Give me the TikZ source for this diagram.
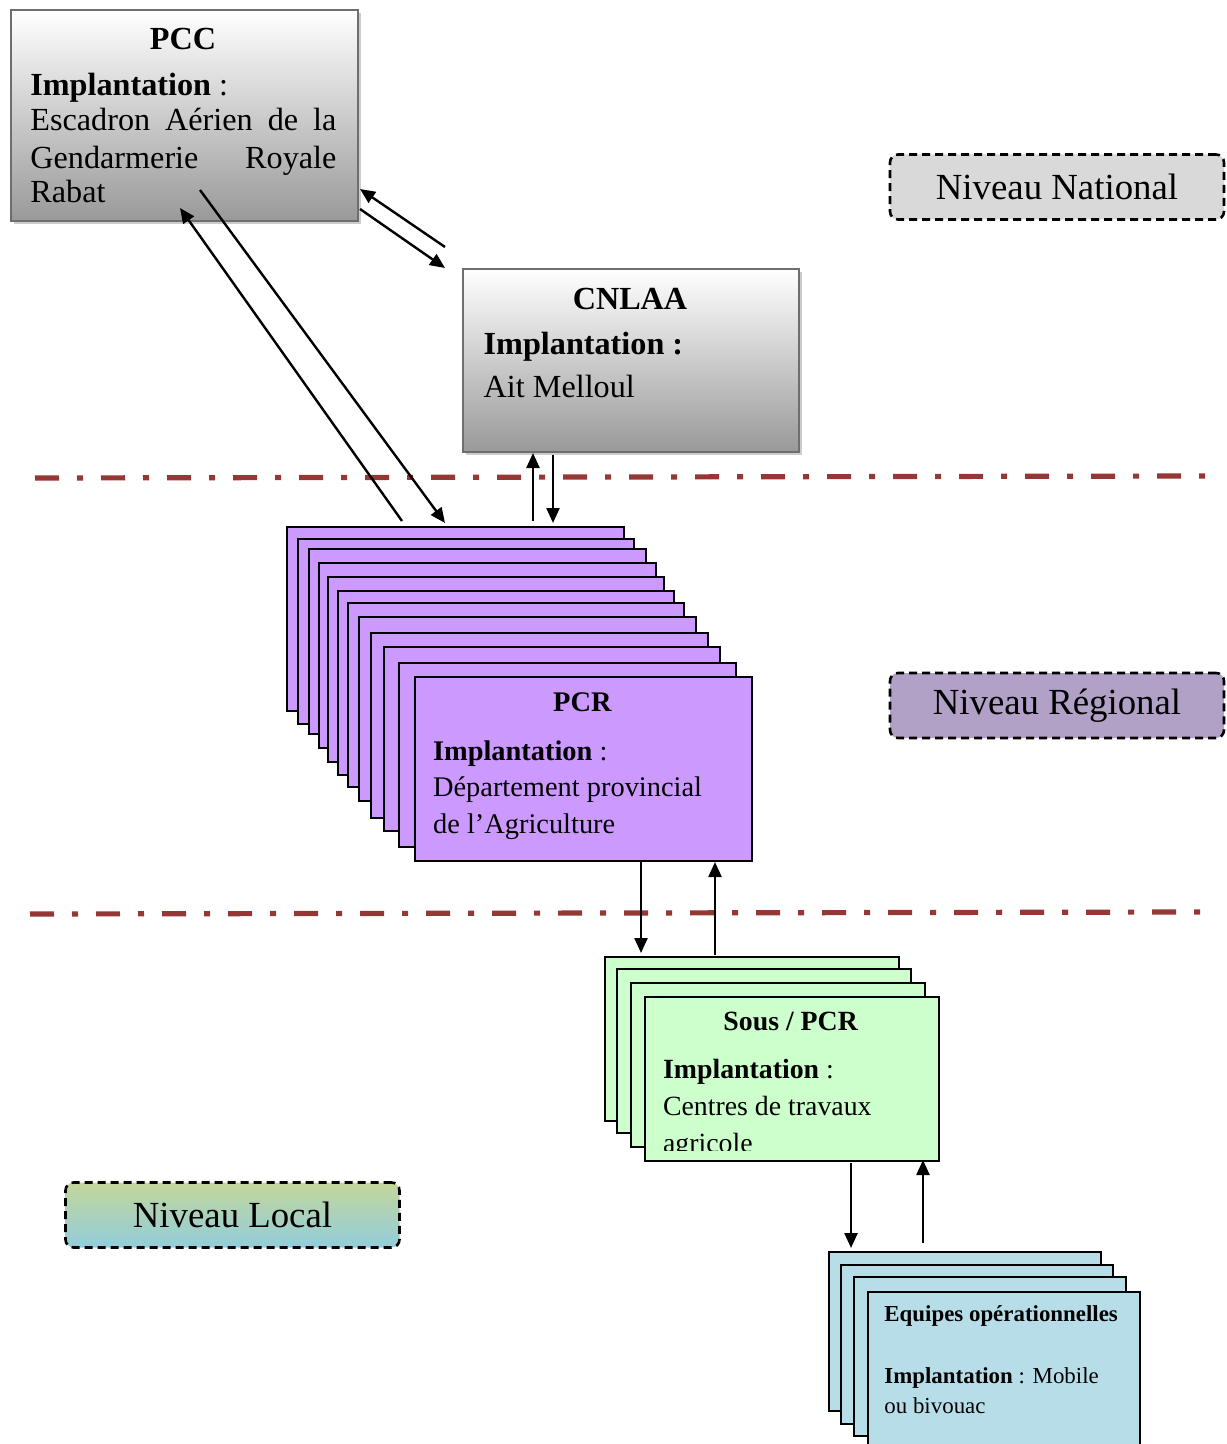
\documentclass[tikz,border=0pt]{standalone}
\usepackage{fontspec}
\setmainfont{Liberation Serif}
\usetikzlibrary{arrows.meta}
\definecolor{pcrfill}{HTML}{CC99FF}
\definecolor{sousfill}{HTML}{CCFFCC}
\definecolor{eqfill}{HTML}{B7DEE8}
\definecolor{natfill}{HTML}{D9D9D9}
\definecolor{regfill}{HTML}{B2A1C7}
\definecolor{loctop}{HTML}{C3D69B}
\definecolor{locbot}{HTML}{92CDDC}
\definecolor{sepred}{HTML}{953735}
\definecolor{boxborder}{HTML}{6E6E6E}
\begin{document}
\begin{tikzpicture}[x=0.5pt,y=-0.5pt,
  graybox/.style={draw=boxborder, line width=1pt, top color=white, bottom color=black!40, anchor=north west, inner sep=0},
  shadowbox/.style={fill=black!20, draw=none, anchor=north west, inner sep=0},
  stackbox/.style={draw=black, line width=1pt, anchor=north west, inner sep=0},
  pcrbox/.style={stackbox, fill=pcrfill, minimum width=168.35pt, minimum height=92.15pt},
  sousbox/.style={stackbox, fill=sousfill, minimum width=147pt, minimum height=82pt},
  eqbox/.style={stackbox, fill=eqfill, minimum width=136pt, minimum height=79.5pt},
  level/.style={draw=black, line width=1.3pt, dash pattern=on 4pt off 2.5pt, rounded corners=4pt, minimum width=167pt, minimum height=32.5pt, inner sep=0, font=\fontsize{18.4}{22}\selectfont},
  txt/.style={anchor=base west, inner sep=0},
  ctxt/.style={anchor=base, inner sep=0},
  fbig/.style={font=\fontsize{16.1}{18.5}\selectfont},
  fmid/.style={font=\fontsize{14.2}{18.5}\selectfont},
  fsous/.style={font=\fontsize{13.9}{18.5}\selectfont},
  fsmall/.style={font=\fontsize{11.45}{15}\selectfont},
  link/.style={line width=1.2pt, -{Triangle[length=7.5pt,width=6.5pt]}},
  sep/.style={draw=sepred, line width=2.6pt, dash pattern=on 12pt off 9pt on 3pt off 9pt}
]
\useasboundingbox (0,0) rectangle (1226,1444);
\clip (0,0) rectangle (1226,1444);

% separators
\coordinate (s1a) at (35,478);
\coordinate (s1b) at (1205,476);
\coordinate (s2a) at (30,914);
\coordinate (s2b) at (1200,912);
\draw[sep] (s1a) -- (s1b);
\draw[sep] (s2a) -- (s2b);

% PCC
\node[shadowbox, minimum width=173.5pt, minimum height=105.5pt] (pccsh) at (14,13) {};
\node[graybox, minimum width=173.5pt, minimum height=105.5pt] (pcc) at (10,9) {};
\node[ctxt, fbig] (pcct) at (183,50) {\textbf{PCC}};
\node[txt, fbig] (pcc1) at (30,96) {\textbf{Implantation} :};
\node[txt, fbig] (pcc2) at (30,131) {\hbox to 153pt{Escadron\hfill Aérien\hfill de\hfill la}};
\node[txt, fbig] (pcc3) at (30,169) {\hbox to 153pt{Gendarmerie\hfill Royale}};
\node[txt, fbig] (pcc4) at (30,203) {Rabat};

% CNLAA
\node[shadowbox, minimum width=168pt, minimum height=91.5pt] (cnsh) at (466,272) {};
\node[graybox, minimum width=168pt, minimum height=91.5pt] (cnlaa) at (462,268) {};
\node[ctxt, fbig] (cnt) at (630,309.3) {\textbf{CNLAA}};
\node[txt, fbig] (cn1) at (483.3,354.3) {\textbf{Implantation :}};
\node[txt, fbig] (cn2) at (483.3,397.7) {Ait Melloul};

% PCR stack
\foreach \i/\px/\py in {1/286/525.7,2/296.7/538.3,3/308.3/548.3,4/318.3/562.3,5/326.7/576.3,6/336.7/590,7/346.7/601.7,8/358.3/616,9/370/632.3,10/382.7/646,11/398.3/662,12/414.3/675.7}
  \node[pcrbox] (pcr\i) at (\px,\py) {};
\node[ctxt, fmid] (pcrt) at (582.5,711.7) {\textbf{PCR}};
\node[txt, fmid] (pcr1t) at (432.7,760) {\textbf{Implantation} :};
\node[txt, fmid] (pcr2t) at (432.7,796.7) {Département provincial};
\node[txt, fmid] (pcr3t) at (432.7,833.3) {de l’Agriculture};

% Sous / PCR stack
\foreach \i/\px/\py in {1/604/955.7,2/616/968.3,3/630/981.7,4/644/996}
  \node[sousbox] (sous\i) at (\px,\py) {};
\node[ctxt, fsous] (soust) at (790.8,1030.7) {\textbf{Sous / PCR}};
\node[txt, fsous] (sous1t) at (662.7,1078.3) {\textbf{Implantation} :};
\node[txt, fsous] (sous2t) at (662.7,1115.7) {Centres de travaux};
\begin{scope}
  \clip (644,996) rectangle (938,1150);
  \node[txt, fsous] (sous3t) at (662.7,1152.5) {agricole};
\end{scope}

% Equipes stack
\foreach \i/\px/\py in {1/828.3/1251,2/840/1264.3,3/853.3/1275.7,4/866.7/1291}
  \node[eqbox] (eq\i) at (\px,\py) {};
\node[txt, fsmall] (eqt) at (884,1321.7) {\textbf{Equipes opérationnelles}};
\node[txt, fsmall] (eq1t) at (884,1383.3) {\textbf{Implantation} : Mobile};
\node[txt, fsmall] (eq2t) at (884,1413.3) {ou bivouac};

% level labels
\node[level, fill=natfill] (nat) at (1057,187) {Niveau National};
\node[level, fill=regfill] (reg) at (1057,705.5) {Niveau Régional};
\node[level, top color=loctop, bottom color=locbot] (loc) at (232.5,1215) {Niveau Local};

% connectors
\coordinate (a1s) at (445,247);  \coordinate (a1e) at (360,189);
\coordinate (a2s) at (360,209);  \coordinate (a2e) at (445,268);
\coordinate (a3s) at (200,190);  \coordinate (a3e) at (445,523);
\coordinate (a4s) at (402,521);  \coordinate (a4e) at (180,208);
\coordinate (a5s) at (533,521);  \coordinate (a5e) at (533,453);
\coordinate (a6s) at (553,455);  \coordinate (a6e) at (553,523);
\coordinate (a7s) at (641,861);  \coordinate (a7e) at (641,953);
\coordinate (a8s) at (715,955);  \coordinate (a8e) at (715,862);
\coordinate (a9s) at (851,1163); \coordinate (a9e) at (851,1248);
\coordinate (a10s) at (923,1243); \coordinate (a10e) at (923,1160);
\foreach \k in {1,...,10}
  \draw[link] (a\k s) -- (a\k e);
\end{tikzpicture}
\end{document}
